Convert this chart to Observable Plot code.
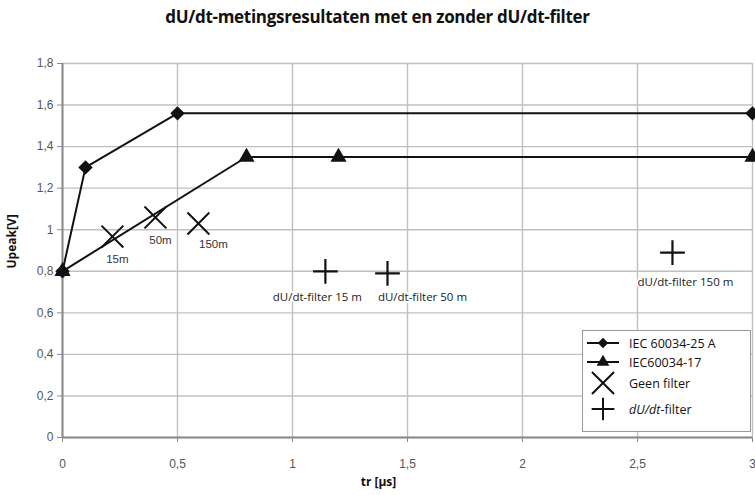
<!DOCTYPE html>
<html>
<head>
<meta charset="utf-8">
<script src="https://cdn.jsdelivr.net/npm/d3@7"></script>
<script src="https://cdn.jsdelivr.net/npm/@observablehq/plot@0.6"></script>
<style>
  body { margin: 0; background: #fff; }
  #wrap { position: relative; width: 755px; height: 495px; overflow: hidden; }
  #title { position: absolute; left: 0; top: 5px; width: 755px; text-align: center;
    font: bold 17px "Open Sans", sans-serif; color: #111; letter-spacing: -0.3px; }
  #chart { position: absolute; left: 0; top: 50px; }
  #legend { position: absolute; left: 582px; top: 330px; }
</style>
</head>
<body>
<div id="wrap">
  <div id="title">dU/dt-metingsresultaten met en zonder dU/dt-filter</div>
  <div id="chart"></div>
  <div id="legend"></div>
</div>
<script>
// ---- data ----
const iecA_x = [0, 0.1, 0.5, 3];
const iecA_y = [0.8, 1.3, 1.56, 1.56];
const iecB_x = [0, 0.8, 1.2, 3];
const iecB_y = [0.8, 1.35, 1.35, 1.35];
const geen_x = [0.217, 0.404, 0.591];
const geen_y = [0.967, 1.059, 1.03];
const geen_labels = ["15m", "50m", "150m"];
const filt_x = [1.143, 1.413, 2.652];
const filt_y = [0.8, 0.79, 0.89];
const filt_labels = ["dU/dt-filter 15 m", "dU/dt-filter 50 m", "dU/dt-filter 150 m"];
const seriesNames = ["IEC 60034-25 A", "IEC60034-17", "Geen filter", "dU/dt-filter"];
const xTicks = [0, 0.5, 1, 1.5, 2, 2.5, 3];
const yTicks = [0, 0.2, 0.4, 0.6, 0.8, 1, 1.2, 1.4, 1.6, 1.8];
const xLabel = "tr [µs]";
const yLabel = "Upeak[V]";

// ---- tables ----
const A = iecA_x.map((x, i) => ({x, y: iecA_y[i]}));
const B = iecB_x.map((x, i) => ({x, y: iecB_y[i]}));
const G = geen_x.map((x, i) => ({x, y: geen_y[i], label: geen_labels[i]}));
const F = filt_x.map((x, i) => ({x, y: filt_y[i], label: filt_labels[i]}));
const fmt = d => String(d).replace(".", ",");

const gOff = [[5, 23], [5, 23], [15, 21]];
const fOff = [[-8, 26], [35, 24], [13, 30]];

const plot = Plot.plot({
  width: 755,
  height: 445,
  marginLeft: 62,
  marginRight: 3,
  marginTop: 13,
  marginBottom: 58,
  x: {domain: [0, 3]},
  y: {domain: [0, 1.8]},
  style: {fontFamily: "'Liberation Sans', Arial, sans-serif", fontSize: "11px", color: "#111"},
  marks: [
    Plot.gridX(xTicks, {stroke: "#c0c0c0", strokeOpacity: 1, strokeWidth: 1.4}),
    Plot.gridY(yTicks, {stroke: "#c0c0c0", strokeOpacity: 1, strokeWidth: 1.4}),
    Plot.ruleX([0], {stroke: "#8a8a8a", strokeWidth: 2}),
    Plot.ruleY([0], {stroke: "#8a8a8a", strokeWidth: 2}),
    Plot.axisX({ticks: xTicks, tickFormat: fmt, tickSize: 5, tickPadding: 17, stroke: "#8a8a8a", color: "#555", label: null, fontSize: 12}),
    Plot.axisY({ticks: yTicks, tickFormat: fmt, tickSize: 5, tickPadding: 4, stroke: "#8a8a8a", color: "#555", label: null, fontSize: 12}),
    Plot.text([xLabel], {frameAnchor: "bottom", dy: 48, dx: -29, fontWeight: "bold", fontSize: 12, fontFamily: "'Open Sans', sans-serif", fill: "#111"}),
    Plot.text([yLabel], {frameAnchor: "left", dx: -50, dy: 18, rotate: -90, fontWeight: "bold", fontSize: 12, fontFamily: "'Open Sans', sans-serif", fill: "#111"}),
    Plot.line(A, {x: "x", y: "y", stroke: "#111", strokeWidth: 2}),
    Plot.line(B, {x: "x", y: "y", stroke: "#111", strokeWidth: 2}),
    Plot.dot(A, {x: "x", y: "y", symbol: "diamond2", fill: "#111", stroke: "none", r: 6.5}),
    Plot.dot(B, {x: "x", y: "y", symbol: "triangle", fill: "#111", stroke: "none", r: 6}),
    Plot.dot(G, {x: "x", y: "y", symbol: "times", stroke: "#111", fill: "none", strokeWidth: 2, r: 10}),
    Plot.dot(F, {x: "x", y: "y", symbol: "plus", stroke: "#111", fill: "none", strokeWidth: 2.2, r: 8}),
    ...G.map((d, i) => Plot.text([d], {x: "x", y: "y", text: "label", dx: gOff[i][0], dy: gOff[i][1], fontSize: 11.5, fill: "#333"})),
    ...F.map((d, i) => Plot.text([d], {x: "x", y: "y", text: "label", dx: fOff[i][0], dy: fOff[i][1], fontSize: 11.5, fontFamily: "'Open Sans', sans-serif", fill: "#222", stroke: "white", strokeWidth: 4, paintOrder: "stroke"}))
  ]
});
document.getElementById("chart").appendChild(plot);

// ---- legend ----
const lw = 168, lh = 101;
const leg = d3.select("#legend").append("svg").attr("width", lw + 2).attr("height", lh + 2);
leg.append("rect").attr("x", 0.5).attr("y", 0.5).attr("width", lw).attr("height", lh)
  .attr("fill", "white").attr("stroke", "#999");
const rows = [13, 32, 53, 79];
const sym = [d3.symbolDiamond2, d3.symbolTriangle, d3.symbolTimes, d3.symbolPlus];
seriesNames.forEach((name, i) => {
  const g = leg.append("g").attr("transform", `translate(0,${rows[i]})`);
  if (i < 2) {
    g.append("line").attr("x1", 5).attr("x2", 37).attr("y1", 0).attr("y2", 0).attr("stroke", "#111").attr("stroke-width", 2);
    g.append("path").attr("transform", "translate(21,0)").attr("d", d3.symbol(sym[i], 70)()).attr("fill", "#111");
  } else {
    g.append("path").attr("transform", "translate(21,0)").attr("d", d3.symbol(sym[i], i === 2 ? 320 : 170)())
      .attr("fill", "none").attr("stroke", "#111").attr("stroke-width", 2);
  }
  const t = g.append("text").attr("x", 47).attr("y", 4.5)
    .attr("font-family", "'Open Sans', sans-serif").attr("font-size", 12.5).attr("fill", "#111");
  if (i === 3) {
    t.append("tspan").attr("font-style", "italic").text("dU/dt");
    t.append("tspan").text("-filter");
  } else {
    t.text(name);
  }
});
</script>
</body>
</html>
